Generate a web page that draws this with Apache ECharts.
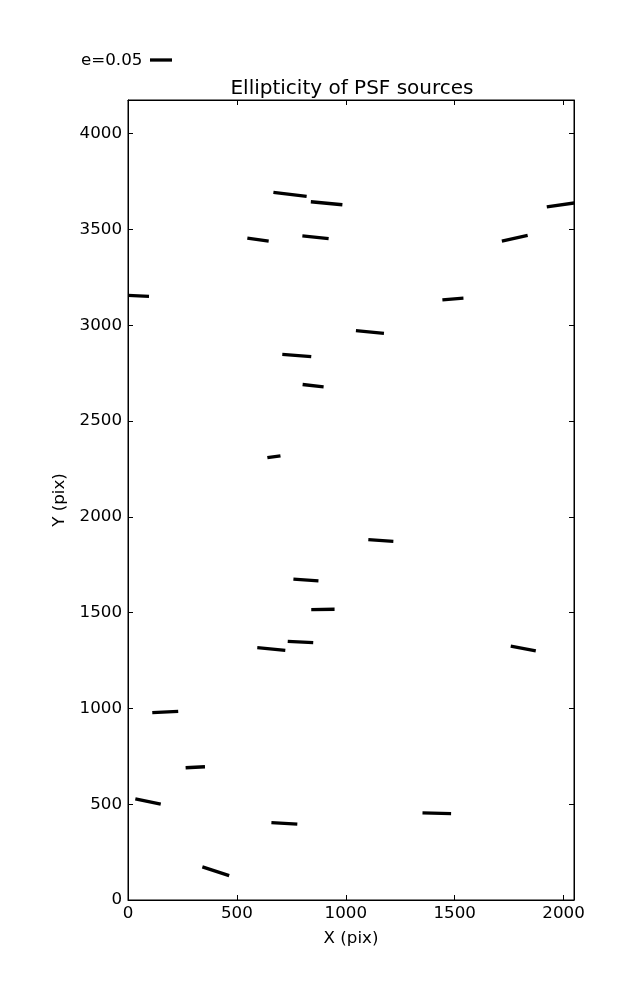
<!DOCTYPE html>
<html>
<head>
<meta charset="utf-8">
<script src="https://cdn.jsdelivr.net/npm/echarts@6/dist/echarts.min.js"></script>
<style>
html,body{margin:0;padding:0;background:#fff;}
#chart{width:637px;height:1000px;}
</style>
</head>
<body>
<div id="chart"></div>
<script>
// Source centres (pix), ellipticity and position angle (deg, counter-clockwise from +X)
const xPix = [744, 912, 597, 861, 41, 1991, 1776, 1492, 775, 850, 670, 1111, 817, 895, 792, 658, 1161, 1815, 171, 309, 92, 718, 403, 1418];
const yPix = [3683, 3637, 3447, 3460, 3154, 3629, 3454, 3137, 2842, 2685, 2314, 2965, 1670, 1517, 1347, 1310, 1877, 1313, 981, 693, 514, 400, 150, 453];
const ellip = [0.076, 0.072, 0.049, 0.060, 0.055, 0.068, 0.060, 0.048, 0.066, 0.048, 0.030, 0.064, 0.057, 0.053, 0.058, 0.064, 0.057, 0.058, 0.059, 0.044, 0.059, 0.059, 0.064, 0.065];
const angleDeg = [-6.9, -5.4, -8.0, -5.9, -2.8, 8.2, 12.4, 4.6, -4.5, -6.2, 7.3, -5.5, -3.9, 0.7, -2.9, -5.5, -3.9, -10.6, 2.9, 3.0, -11.8, -3.7, -17.9, -1.4];
const xTicks = [0, 500, 1000, 1500, 2000];
const yTicks = [0, 500, 1000, 1500, 2000, 2500, 3000, 3500, 4000];
const legendE = 0.05;
const legendLabel = 'e=0.05';
const titleText = 'Ellipticity of PSF sources';
const xName = 'X (pix)';
const yName = 'Y (pix)';

const X_MAX = 2048, Y_MAX = 4176;
const SCALE = 440;       // screen px per unit ellipticity
const LW = 3.3;
const FONT = 'DejaVu Sans';
const FS = 16.7;

const data = xPix.map((x, i) => [x, yPix[i], ellip[i], angleDeg[i]]);

const chart = echarts.init(document.getElementById('chart'), null, {renderer: 'canvas'});

const tickStyle = {show: true, inside: true, length: 5, lineStyle: {color: '#000', width: 1}};
const lineStyle = {show: true, onZero: false, lineStyle: {color: '#000', width: 1}};
const plain = v => String(v);

chart.setOption({
  animation: false,
  backgroundColor: '#fff',
  title: {
    text: titleText, left: 347, top: 74, textAlign: 'center',
    textStyle: {fontFamily: FONT, fontSize: 20, fontWeight: 'normal', color: '#000'}
  },
  grid: {left: 128, right: 63, top: 100, bottom: 100, show: true, borderColor: '#000', borderWidth: 1, backgroundColor: '#fff'},
  xAxis: [{
    type: 'value', min: 0, max: X_MAX, position: 'bottom',
    splitLine: {show: false}, axisLine: lineStyle,
    axisTick: Object.assign({customValues: xTicks}, tickStyle),
    axisLabel: {customValues: xTicks, formatter: plain, margin: 5, fontFamily: FONT, fontSize: FS, color: '#000'},
    name: xName, nameLocation: 'middle', nameGap: 30,
    nameTextStyle: {fontFamily: FONT, fontSize: FS, color: '#000'}
  }, {
    type: 'value', min: 0, max: X_MAX, position: 'top',
    splitLine: {show: false}, axisLine: lineStyle,
    axisTick: Object.assign({customValues: xTicks}, tickStyle),
    axisLabel: {show: false}
  }],
  yAxis: [{
    type: 'value', min: 0, max: Y_MAX, position: 'left',
    splitLine: {show: false}, axisLine: lineStyle,
    axisTick: Object.assign({customValues: yTicks}, tickStyle),
    axisLabel: {customValues: yTicks, formatter: plain, margin: 6, fontFamily: FONT, fontSize: FS, color: '#000'},
    name: yName, nameLocation: 'middle', nameGap: 53, nameRotate: 90,
    nameTextStyle: {fontFamily: FONT, fontSize: FS, color: '#000'}
  }, {
    type: 'value', min: 0, max: Y_MAX, position: 'right',
    splitLine: {show: false}, axisLine: lineStyle,
    axisTick: Object.assign({customValues: yTicks}, tickStyle),
    axisLabel: {show: false}
  }],
  graphic: [{
    type: 'text', left: 81, top: 52,
    style: {text: legendLabel, fontFamily: FONT, fontSize: FS, fill: '#000'}
  }, {
    type: 'line',
    shape: {x1: 150, y1: 60, x2: 150 + legendE * SCALE, y2: 60},
    style: {stroke: '#000', lineWidth: LW}
  }],
  series: [{
    type: 'custom',
    coordinateSystem: 'cartesian2d',
    clip: true,
    data: data,
    renderItem: function (params, api) {
      const c = api.coord([api.value(0), api.value(1)]);
      const half = api.value(2) * SCALE / 2;
      const a = api.value(3) * Math.PI / 180;
      const dx = Math.cos(a) * half, dy = -Math.sin(a) * half;
      return {
        type: 'line',
        shape: {x1: c[0] - dx, y1: c[1] - dy, x2: c[0] + dx, y2: c[1] + dy},
        style: {stroke: '#000', lineWidth: LW, lineCap: 'butt'}
      };
    }
  }]
});
</script>
</body>
</html>
